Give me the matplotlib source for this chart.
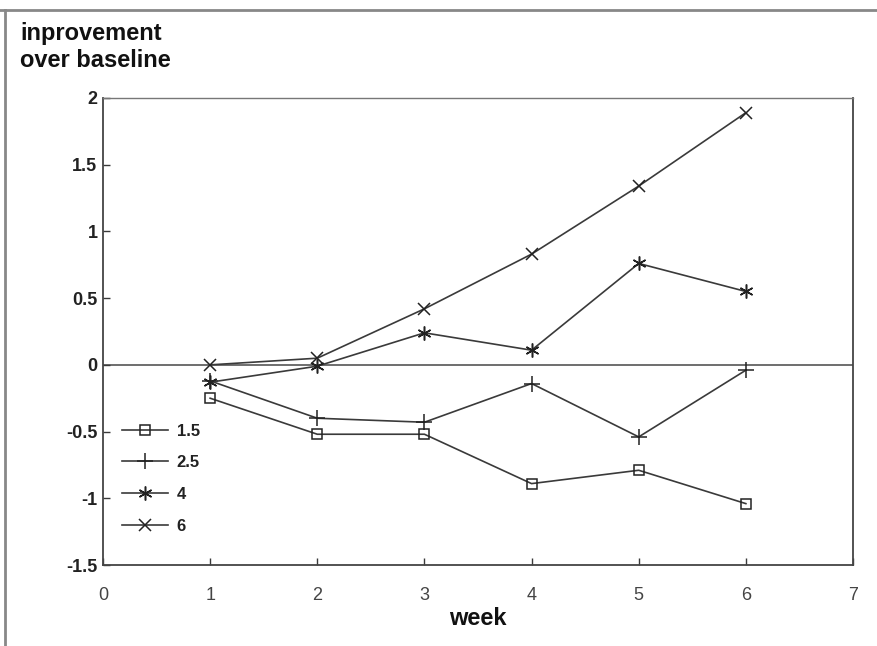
import matplotlib.pyplot as plt
from matplotlib.lines import Line2D

plt.rcParams['font.family'] = ['Liberation Sans', 'DejaVu Sans']

weeks = [1, 2, 3, 4, 5, 6]
dose_15 = [-0.25, -0.52, -0.52, -0.89, -0.79, -1.04]
dose_25 = [-0.12, -0.40, -0.43, -0.14, -0.54, -0.04]
dose_4 = [-0.13, -0.01, 0.24, 0.11, 0.76, 0.55]
dose_6 = [0.00, 0.05, 0.42, 0.83, 1.34, 1.89]

labels = ['1.5', '2.5', '4', '6']
markers = ['s', '+', (6, 2, 0), 'x']
sizes = [7, 11, 10, 9]

xticks = [0, 1, 2, 3, 4, 5, 6, 7]
yticks = [-1.5, -1, -0.5, 0, 0.5, 1, 1.5, 2]
ytick_labels = ['-1.5', '-1', '-0.5', '0', '0.5', '1', '1.5', '2']

ink = '#3a3a3a'

fig = plt.figure(figsize=(8.77, 6.46), dpi=100)
ax = fig.add_axes([103 / 877, 1 - 565 / 646, 750 / 877, 467 / 646])

ax.axhline(0, color='#555555', lw=1.2, zorder=1)

series = [dose_15, dose_25, dose_4, dose_6]
for vals, lab, mk, ms in zip(series, labels, markers, sizes):
    ax.plot(weeks, vals, color=ink, lw=1.2, marker=mk, markersize=ms,
            markerfacecolor='none', markeredgecolor='#222222',
            markeredgewidth=1.1, label=lab, zorder=3)

ax.set_xlim(0, 7)
ax.set_ylim(-1.5, 2)
ax.set_xticks(xticks)
ax.set_yticks(yticks)
ax.set_yticklabels(ytick_labels)
ax.tick_params(direction='in', length=5, width=1, color=ink,
               top=False, right=False)
for lbl in ax.get_xticklabels():
    lbl.set_fontsize(13)
    lbl.set_color('#444444')
for lbl in ax.get_yticklabels():
    lbl.set_fontsize(13)
    lbl.set_fontweight('bold')
    lbl.set_color('#222222')
ax.tick_params(axis='x', pad=16)
ax.tick_params(axis='y', pad=4)

for s in ax.spines.values():
    s.set_color('#444444')
    s.set_linewidth(1.3)
ax.spines['top'].set_color('#777777')
ax.spines['top'].set_linewidth(1.0)

ax.set_xlabel('week', fontsize=17, fontweight='bold', color='#111111',
              labelpad=2)

leg = ax.legend(loc='lower left', bbox_to_anchor=(0.005, 0.035), frameon=False,
                fontsize=12, handlelength=2.8, labelspacing=1.0,
                handletextpad=0.5)
for t in leg.get_texts():
    t.set_fontweight('bold')
    t.set_color('#222222')

fig.text(20 / 877, 1 - 22 / 646, 'inprovement\nover baseline', fontsize=17,
         fontweight='bold', color='#111111', va='top', ha='left',
         linespacing=1.2)

# scanned page frame
fig.add_artist(Line2D([0, 1], [1 - 10 / 646, 1 - 10 / 646],
                      transform=fig.transFigure, color='#888888', lw=2))
fig.add_artist(Line2D([5 / 877, 5 / 877], [0, 1 - 10 / 646],
                      transform=fig.transFigure, color='#888888', lw=2))

fig.savefig('out.png', dpi=100)
